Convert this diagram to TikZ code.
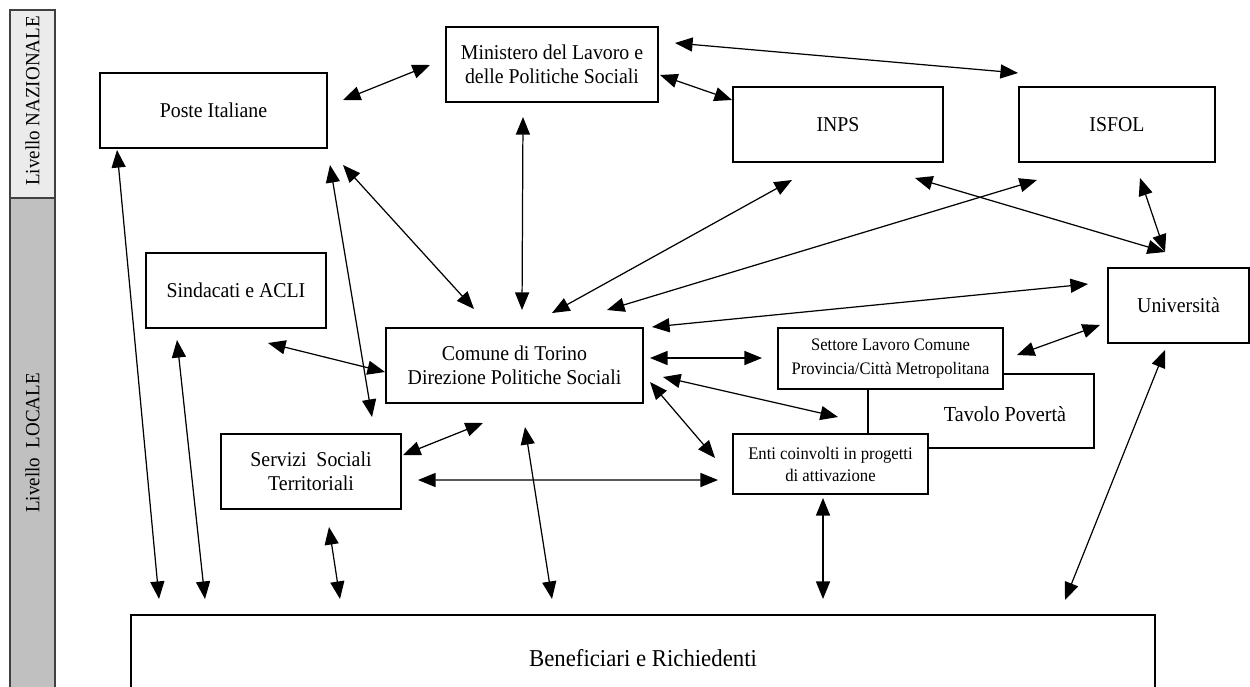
\documentclass[tikz,border=0pt]{standalone}
\usepackage{fontspec}
\setmainfont[FakeStretch=0.94]{Liberation Serif}
\usepackage{tikz}
\usetikzlibrary{arrows.meta}

\definecolor{nazfill}{HTML}{EBEBEB}
\definecolor{locfill}{HTML}{C0C0C0}

\tikzset{
  box/.style={draw, fill=white, line width=0.8pt, inner sep=2pt, outer sep=0pt,
    align=center, font=\fontsize{12}{13.5}\selectfont},
  boxsize/.style 2 args={minimum width=#1*0.02cm, minimum height=#2*0.02cm},
  smalltext/.style={font=\fontsize{10}{14}\selectfont},
  link/.style={<->, line width=0.7pt},
  band/.style={draw=black!75, line width=0.7pt},
}

\begin{document}
\begin{tikzpicture}[x=0.02cm, y=-0.02cm, >={Triangle[length=10pt,width=8pt]}]
  \useasboundingbox (0,0) rectangle (1250,686);
  \clip (0,0) rectangle (1250,686);

  % level band
  \draw[band, fill=nazfill] (10,10) rectangle (55,198);
  \draw[band, fill=locfill] (10,198) rectangle (55,700);
  \node[rotate=90, font=\fontsize{11.5}{13}\selectfont] (naz) at (32.5,101) {Livello NAZIONALE};
  \node[rotate=90, font=\fontsize{11.5}{13}\selectfont] (loc) at (32.5,443) {Livello\ \ LOCALE};

  % nodes
  \node[box, boxsize={227}{75}] (poste) at (213.5,110.5) {Poste Italiane};
  \node[box, boxsize={212}{75}] (min) at (552,64.5)
    {Ministero del Lavoro e\\delle Politiche Sociali};
  \node[box, boxsize={210}{75}] (inps) at (838,124.5) {INPS};
  \node[box, boxsize={196}{75}] (isfol) at (1117,124.5) {ISFOL};
  \node[box, boxsize={180}{75}] (sind) at (236,290.5) {Sindacati e ACLI};
  \node[box, boxsize={141}{75}] (univ) at (1178.5,305.5) {Università};
  \node[box, boxsize={257}{75}] (comune) at (514.5,365.5)
    {Comune di Torino\\Direzione Politiche Sociali};
  \node[box, boxsize={226}{74}] (tavolo) at (981,411) {};
  \node[font=\fontsize{12.2}{13}\selectfont] (tavolotxt) at (1005,414) {Tavolo Povertà};
  \node[box, smalltext, boxsize={225}{61}] (settore) at (890.5,358.5)
    {Settore Lavoro Comune\\Provincia/Città Metropolitana};
  \node[box, font=\fontsize{10.1}{12.5}\selectfont, boxsize={195}{60}] (enti)
    at (830.5,464) {Enti coinvolti in progetti\\di attivazione};
  \node[box, boxsize={180}{75}] (servizi) at (311,471.5)
    {Servizi\ \ Sociali\\Territoriali};
  \node[box, font=\fontsize{13.8}{15}\selectfont, boxsize={1024}{86}] (benef) at (643,658)
    {Beneficiari e Richiedenti};

  % arrows
  \draw[link] ([shift={(129.5,-10.5)}]poste.center) -- ([shift={(-122,0.5)}]min.center);
  \draw[link] ([shift={(123,-21.5)}]min.center) -- ([shift={(-99,-51.5)}]isfol.center);
  \draw[link] ([shift={(108,10.5)}]min.center) -- ([shift={(-106,-24.5)}]inps.center);
  \draw[link] ([shift={(-29,52.5)}]min.center) -- ([shift={(7.5,-55.5)}]comune.center);
  \draw[link] ([shift={(129.5,54.5)}]poste.center) -- ([shift={(-40.5,-56.5)}]comune.center);
  \draw[link] ([shift={(116.5,54.5)}]poste.center) -- ([shift={(61,-54.5)}]servizi.center);
  \draw[link] ([shift={(-96.5,39.5)}]poste.center) -- ([shift={(-484,-59)}]benef.center);
  \draw[link] ([shift={(-59,49.5)}]sind.center) -- ([shift={(-438,-59)}]benef.center);
  \draw[link] ([shift={(32,52.5)}]sind.center) -- ([shift={(-129.5,6.5)}]comune.center);
  \draw[link] ([shift={(-46,55.5)}]inps.center) -- ([shift={(37.5,-52.5)}]comune.center);
  \draw[link] ([shift={(-80,55.5)}]isfol.center) -- ([shift={(92.5,-55.5)}]comune.center);
  \draw[link] ([shift={(77,53.5)}]inps.center) -- ([shift={(-13.5,-53.5)}]univ.center);
  \draw[link] ([shift={(23,53.5)}]isfol.center) -- ([shift={(-13.5,-53.5)}]univ.center);
  \draw[link] ([shift={(137.5,-38.5)}]comune.center) -- ([shift={(-90.5,-21.5)}]univ.center);
  \draw[link] ([shift={(126.5,-3.5)}]settore.center) -- ([shift={(-78.5,19.5)}]univ.center);
  \draw[link] ([shift={(135.5,-7.5)}]comune.center) -- ([shift={(-128.5,-0.5)}]settore.center);
  \draw[link] ([shift={(148.5,11.5)}]comune.center) -- ([shift={(-143,6)}]tavolo.center);
  \draw[link] ([shift={(135.5,16.5)}]comune.center) -- ([shift={(-115.5,-6)}]enti.center);
  \draw[link] ([shift={(-31.5,57.5)}]comune.center) -- ([shift={(92,-16.5)}]servizi.center);
  \draw[link] ([shift={(107,8.5)}]servizi.center) -- ([shift={(-112.5,16)}]enti.center);
  \draw[link] ([shift={(10.5,61.5)}]comune.center) -- ([shift={(-91,-59)}]benef.center);
  \draw[link] ([shift={(18,55.5)}]servizi.center) -- ([shift={(-303,-59)}]benef.center);
  \draw[link] ([shift={(-7.5,34)}]enti.center) -- ([shift={(180,-59)}]benef.center);
  \draw[link] ([shift={(-13.5,44.5)}]univ.center) -- ([shift={(422,-58)}]benef.center);
\end{tikzpicture}
\end{document}
